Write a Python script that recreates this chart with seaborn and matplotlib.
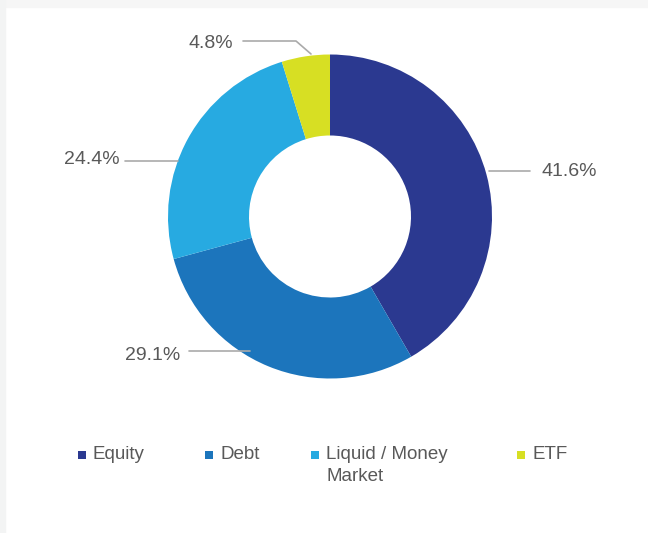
import matplotlib
matplotlib.use("Agg")
import matplotlib.pyplot as plt
import seaborn as sns
from matplotlib.patches import Rectangle

# data
categories = ["Equity", "Debt", "Liquid / Money\nMarket", "ETF"]
shares = [41.6, 29.1, 24.4, 4.8]
colors = ["#2B3990", "#1C75BC", "#27AAE1", "#D7DF23"]

sns.set_theme(style="white")
plt.rcParams["font.family"] = ["Liberation Sans", "DejaVu Sans"]

W, H = 648, 533
fig = plt.figure(figsize=(W / 100, H / 100), dpi=100)
fig.patch.set_facecolor("white")
# light gray frame strips seen at top / left of the screenshot
fig.patches.append(Rectangle((0, 1 - 7 / H), 1, 7 / H, transform=fig.transFigure,
                             color="#f6f6f6", zorder=0))
fig.patches.append(Rectangle((0, 0), 5 / W, 1, transform=fig.transFigure,
                             color="#f3f4f4", zorder=0))

ax = fig.add_axes([0, 0, 1, 1])

cx, cy, r = 330, H - 216.5, 162
wedges, _ = ax.pie(shares, colors=colors, startangle=90, counterclock=False,
                   center=(cx, cy), radius=r, frame=True,
                   wedgeprops=dict(width=81, linewidth=0))
ax.set_xlim(0, W)
ax.set_ylim(0, H)
ax.set_aspect("equal")
ax.axis("off")

txt = dict(color="#595959", fontsize=14, va="center")
line = dict(color="#aaaaaa", lw=1.2)

def y(p):
    return H - p

# Equity
ax.plot([489, 530], [y(171), y(171)], **line)
ax.text(541, y(171), f"{shares[0]}%", ha="left", **txt)
# Debt
ax.plot([189, 250], [y(351), y(351)], **line)
ax.text(180, y(356), f"{shares[1]}%", ha="right", **txt)
# Liquid
ax.plot([125, 178], [y(161), y(161)], **line)
ax.text(120, y(160), f"{shares[2]}%", ha="right", **txt)
# ETF
ax.plot([243, 296, 311], [y(41), y(41), y(54)], **line)
ax.text(233, y(43), f"{shares[3]}%", ha="right", **txt)

# legend
leg_x = [82, 209, 315, 521]
for lx, lab, c in zip(leg_x, categories, colors):
    ax.scatter([lx], [y(455)], marker="s", s=36, color=c, linewidths=0)
    lines = lab.split("\n")
    for i, part in enumerate(lines):
        ax.text(lx + 11, y(459 + 22 * i), part, ha="left", va="baseline",
                color="#595959", fontsize=13.5)

fig.savefig("out.png", dpi=100)
